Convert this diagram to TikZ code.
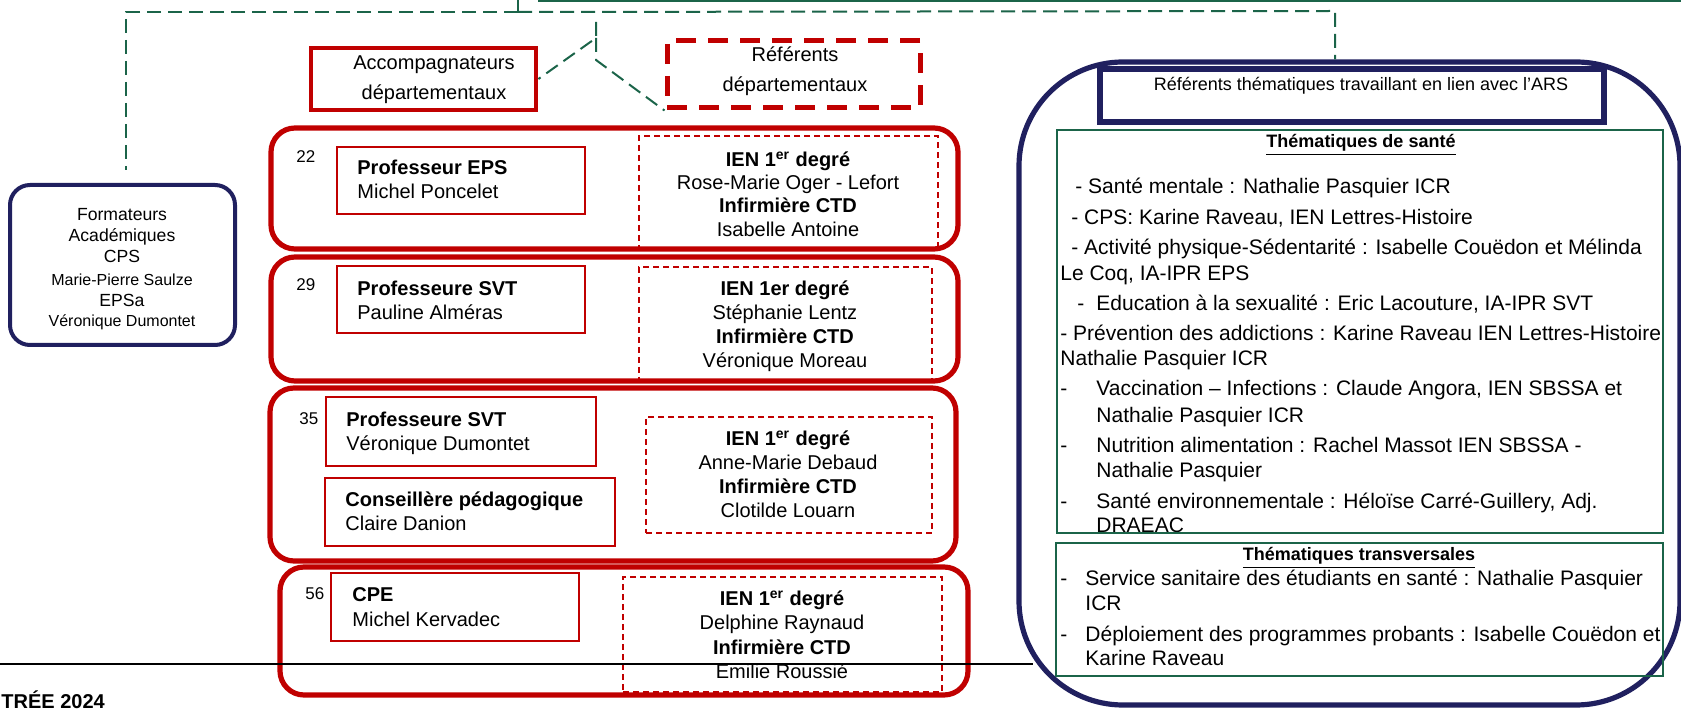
\documentclass[tikz,border=0pt]{standalone}
\usepackage{fontspec}
\setmainfont{Liberation Sans}
\usetikzlibrary{fit}
\definecolor{cred}{HTML}{C00000}
\definecolor{cnavy}{HTML}{20205F}
\definecolor{cgreen}{HTML}{1B6449}
\begin{document}
\begin{tikzpicture}[x=0.5pt,y=-0.5pt,
  redblock/.style={draw=cred, line width=2.6pt, rounded corners=12pt, inner sep=0pt},
  redsolid/.style={draw=cred, line width=0.8pt, inner sep=0pt},
  reddash/.style={draw=cred, line width=0.8pt, dash pattern=on 3pt off 2pt, inner sep=0pt},
  accbox/.style={draw=cred, line width=2.4pt, inner sep=0pt},
  refbox/.style={draw=cred, line width=2.5pt, dash pattern=on 10pt off 6pt, inner sep=0pt},
  navybox/.style={draw=cnavy, line width=2pt, rounded corners=10pt, inner sep=0pt},
  panelbox/.style={draw=cnavy, line width=2.6pt, rounded corners=52pt, inner sep=0pt},
  arsbox/.style={draw=cnavy, line width=3pt, inner sep=0pt},
  gbox/.style={draw=cgreen, line width=1pt, inner sep=0pt},
  link/.style={draw=cgreen, line width=1pt, dash pattern=on 7pt off 3.5pt},
  tc/.style={inner sep=0pt, anchor=base, font=\fontsize{10}{12}\selectfont},
  tl/.style={inner sep=0pt, anchor=base west, font=\fontsize{10}{12}\selectfont},
  tcb/.style={inner sep=0pt, anchor=base, font=\fontsize{10}{12}\selectfont\bfseries},
  tlb/.style={inner sep=0pt, anchor=base west, font=\fontsize{10}{12}\selectfont\bfseries},
  num/.style={inner sep=0pt, anchor=base west, font=\fontsize{8.5}{10}\selectfont},
  fbig/.style={inner sep=0pt, anchor=base, font=\fontsize{8.8}{10}\selectfont},
  fsmall/.style={inner sep=0pt, anchor=base, font=\fontsize{8}{10}\selectfont},
  rl/.style={inner sep=0pt, anchor=base west, font=\fontsize{10.5}{12.5}\selectfont},
  head/.style={inner sep=0pt, anchor=base, font=\fontsize{9}{11}\selectfont\bfseries}
]
\useasboundingbox (0,0) rectangle (1681,710);

% right panel
\node[panelbox, fit={(1019,62)(1680,705)}] (panel) {};
\node[arsbox, fit={(1100,69)(1604,122)}] (ars) {};
\node[inner sep=0pt, anchor=base, font=\fontsize{9}{11}\selectfont] (arst) at (1361,91) {Référents thématiques travaillant en lien avec l’ARS};

\node[head] (h1) at (1361,148) {\underline{Thématiques de santé}};
\node[rl] (r1) at (1075,193.5) {- Santé mentale : Nathalie Pasquier ICR};
\node[rl] (r2) at (1071,224.5) {- CPS: Karine Raveau, IEN Lettres-Histoire};
\node[rl] (r3) at (1071,254.5) {- Activité physique-Sédentarité : Isabelle Couëdon et Mélinda};
\node[rl] (r4) at (1060,280.5) {Le Coq, IA-IPR EPS};
\node[rl] (r5a) at (1077,310.5) {-};
\node[rl] (r5) at (1096,310.5) {Education à la sexualité : Eric Lacouture, IA-IPR SVT};
\node[rl] (r6) at (1060,340.5) {- Prévention des addictions : Karine Raveau IEN Lettres-Histoire};
\node[rl] (r7) at (1060,365.5) {Nathalie Pasquier ICR};
\node[rl] (r8a) at (1060,395.5) {-};
\node[rl] (r8) at (1096,395.5) {Vaccination – Infections : Claude Angora, IEN SBSSA et};
\node[rl] (r9) at (1096,422.5) {Nathalie Pasquier ICR};
\node[rl] (r10a) at (1060,452.5) {-};
\node[rl] (r10) at (1096,452.5) {Nutrition alimentation : Rachel Massot IEN SBSSA -};
\node[rl] (r11) at (1096,477.5) {Nathalie Pasquier};
\node[rl] (r12a) at (1060,508.5) {-};
\node[rl] (r12) at (1096,508.5) {Santé environnementale : Héloïse Carré-Guillery, Adj.};
\node[rl] (r13) at (1096,533) {DRAEAC};
\node[gbox, fit={(1057,130)(1663,533)}] (g1) {};

\node[gbox, line width=1.3pt, fit={(1056,543)(1663,676)}] (g2) {};
\node[head] (h2) at (1359,561) {\underline{Thématiques transversales}};
\node[rl] (s1a) at (1060,585.5) {-};
\node[rl] (s1) at (1085,585.5) {Service sanitaire des étudiants en santé : Nathalie Pasquier};
\node[rl] (s2) at (1085,610.5) {ICR};
\node[rl] (s3a) at (1060,641.5) {-};
\node[rl] (s3) at (1085,641.5) {Déploiement des programmes probants : Isabelle Couëdon et};
\node[rl] (s4) at (1085,665.5) {Karine Raveau};

% left box
\node[navybox, fit={(10,185)(235,345)}] (form) {};
\node[fbig] (f1) at (122,221) {Formateurs};
\node[fbig] (f2) at (122,242) {Académiques};
\node[fbig] (f3) at (122,263) {CPS};
\node[fsmall] (f4) at (122,286) {Marie-Pierre Saulze};
\node[fbig] (f5) at (122,307) {EPSa};
\node[fsmall] (f6) at (122,327) {Véronique Dumontet};

% top boxes
\node[accbox, fit={(311,48)(536,110)}] (acc) {};
\node[tc] (acct1) at (434,70) {Accompagnateurs};
\node[tc] (acct2) at (434,100) {départementaux};
\node[refbox, fit={(667,41)(920,108)}] (ref) {};
\node[tc] (reft1) at (795,62) {Référents};
\node[tc] (reft2) at (795,92) {départementaux};

% block 22
\node[redblock, fit={(271,128)(958,249)}] (b22) {};
\node[redsolid, fit={(337,147)(585,214)}] (p22) {};
\node[reddash, fit={(639,136)(938,249)}] (d22) {};
\node[num] (n22) at (296,163) {22};
\node[tlb] (p22a) at (357,175) {Professeur EPS};
\node[tl] (p22b) at (357,199) {Michel Poncelet};
\node[tcb] (d22a) at (788,167) {IEN 1\textsuperscript{er} degré};
\node[tc] (d22b) at (788,190) {Rose-Marie Oger - Lefort};
\node[tcb] (d22c) at (788,213) {Infirmière CTD};
\node[tc] (d22d) at (788,237) {Isabelle Antoine};

% block 29
\node[redblock, fit={(271,257)(958,381)}] (b29) {};
\node[redsolid, fit={(337,266)(585,333)}] (p29) {};
\node[reddash, fit={(639,267)(932,381)}] (d29) {};
\node[num] (n29) at (296,291) {29};
\node[tlb] (p29a) at (357,296) {Professeure SVT};
\node[tl] (p29b) at (357,320) {Pauline Alméras};
\node[tcb] (d29a) at (785,296) {IEN 1er degré};
\node[tc] (d29b) at (785,320) {Stéphanie Lentz};
\node[tcb] (d29c) at (785,344) {Infirmière CTD};
\node[tc] (d29d) at (785,368) {Véronique Moreau};

% block 35
\node[redblock, fit={(270,388)(956,561)}] (b35) {};
\node[redsolid, fit={(326,397)(596,466)}] (p35) {};
\node[redsolid, fit={(325,478)(615,546)}] (c35) {};
\node[reddash, fit={(646,417)(932,533)}] (d35) {};
\node[num] (n35) at (299,425) {35};
\node[tlb] (p35a) at (346,427) {Professeure SVT};
\node[tl] (p35b) at (346,451) {Véronique Dumontet};
\node[tlb] (c35a) at (345,507) {Conseillère pédagogique};
\node[tl] (c35b) at (345,531) {Claire Danion};
\node[tcb] (d35a) at (788,446) {IEN 1\textsuperscript{er} degré};
\node[tc] (d35b) at (788,470) {Anne-Marie Debaud};
\node[tcb] (d35c) at (788,494) {Infirmière CTD};
\node[tc] (d35d) at (788,518) {Clotilde Louarn};

% block 56
\node[redblock, fit={(280,567)(968,695)}] (b56) {};
\node[redsolid, fit={(331,573)(579,641)}] (p56) {};
\node[reddash, fit={(623,577)(942,692)}] (d56) {};
\node[num] (n56) at (305,600) {56};
\node[tlb] (p56a) at (352,602) {CPE};
\node[tl] (p56b) at (352,626) {Michel Kervadec};
\node[tcb] (d56a) at (782,606) {IEN 1\textsuperscript{er} degré};
\node[tc] (d56b) at (782,630) {Delphine Raynaud};
\node[tcb] (d56c) at (782,654) {Infirmière CTD};
\node[tc] (d56d) at (782,678) {Emilie Roussié};

% connectors
\coordinate (jt) at (518,0);
\coordinate (j) at (518,12);
\coordinate (lend) at (126,170);
\coordinate (pr) at (1335,11);
\coordinate (topA) at (538,1);
\coordinate (topB) at (1681,1);
\coordinate (m1) at (596,22);
\coordinate (m2) at (596,38);
\coordinate (m3) at (596,60);
\draw[cgreen, line width=1pt] (topA) -- (topB);
\draw[cgreen, line width=1pt] (jt) -- (j);
\draw[link] (j) -| (lend);
\draw[link] (j) -- (pr) -- (pr |- panel.north);
\draw[link] (m1) -- (m2) -- (acc.east);
\draw[link] (m2) -- (m3) -- (ref.south west);

% bottom line and footer text
\coordinate (bl1) at (0,664);
\coordinate (bl2) at (1033,664);
\draw[black, line width=1.2pt] (bl1) -- (bl2);
\node[inner sep=0pt, anchor=base west, font=\fontsize{10}{12}\selectfont\bfseries] (foot) at (1,708) {TRÉE 2024};
\end{tikzpicture}
\end{document}
